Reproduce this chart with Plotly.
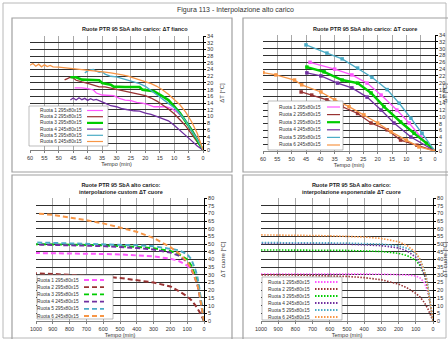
import plotly.graph_objects as go

W, H = 448, 339
def px(x): return x / W
def py(y): return 1 - y / H

# ---------------- data ----------------
names = ["Ruota 1 295x80x15", "Ruota 2 295x80x15", "Ruota 3 295x80x15",
         "Ruota 4 245x80x15", "Ruota 5 295x80x15", "Ruota 6 245x80x15"]
colors = ["#FF55FF", "#993333", "#00CC00", "#7030A0", "#4BACC6", "#F79646"]

# Top-left: ΔT fianco (measured, noisy)
fianco_x = [
    [0, 1.5, 3, 5, 7, 9, 11, 13, 15, 17, 19, 21, 23, 25, 27, 29, 31, 33, 35, 37, 38, 40, 42, 44.5],
    [0, 2, 4, 6, 8, 10, 12, 14, 16, 18, 20, 22, 24, 26, 28, 30, 32, 34, 36, 38, 40, 42, 44, 45, 46, 47, 48],
    [0, 2, 4, 6, 8, 10, 12, 14, 16, 17, 21, 22, 27, 28, 31, 32, 35, 36, 41, 42, 44, 46],
    [0, 2, 4, 6, 8, 10, 12, 14, 16, 18, 20, 22, 24, 26, 28, 30, 32, 34, 36, 37, 38, 39, 40, 41, 42, 43, 44, 45, 46],
    [0, 2, 4, 6, 8, 10, 12, 14, 16, 18, 20, 22, 24, 26, 28, 30, 32, 33, 34, 35, 36, 37, 38, 39, 40, 41],
    [0, 2, 4, 6, 8, 10, 12, 14, 16, 18, 20, 22, 24, 26, 28, 30, 32, 34, 36, 38, 40, 42, 44, 46, 48, 50, 52, 53, 54, 55, 56, 57, 58, 59, 60],
]
fianco_y = [
    [0, 2.8, 5.0, 7.5, 9.5, 11.3, 12.4, 12.9, 12.9, 12.9, 13.5, 14.0, 14.2, 14.7, 14.9, 15.4, 16.2, 16.4, 16.4, 17.0, 17.9, 18.3, 18.5, 18.5],
    [0, 2.3, 4.8, 7.2, 9.0, 10.8, 12.2, 13.5, 14.6, 15.5, 16.2, 16.6, 17.0, 17.3, 17.6, 18.0, 18.5, 18.8, 18.8, 19.4, 19.9, 20.3, 20.8, 21.5, 21.7, 21.3, 20.9],
    [0, 3.0, 6.0, 8.5, 11.0, 13.0, 14.9, 16.0, 17.0, 17.5, 18.0, 18.8, 18.8, 18.8, 18.9, 19.5, 20.0, 20.8, 20.8, 21.0, 21.7, 21.7],
    [0, 1.2, 2.8, 4.3, 6.0, 7.4, 8.7, 9.4, 10.0, 10.6, 11.0, 11.6, 11.7, 11.9, 12.3, 12.9, 13.2, 14.0, 14.9, 15.1, 14.9, 15.3, 14.8, 15.4, 15.0, 15.6, 14.9, 15.5, 14.9],
    [0, 3.2, 5.8, 8.6, 10.8, 12.6, 13.9, 15.2, 16.5, 17.9, 19.0, 19.8, 20.3, 21.0, 21.5, 21.8, 22.0, 22.3, 22.6, 23.4, 23.2, 23.5, 24.0, 23.9, 23.6, 23.0],
    [0, 5.0, 8.5, 11.3, 13.5, 15.2, 16.6, 17.9, 19.0, 19.8, 20.4, 21.0, 21.5, 22.0, 22.4, 22.8, 23.0, 23.2, 23.4, 23.6, 23.8, 24.0, 24.3, 24.4, 24.6, 24.7, 24.8, 25.2, 24.9, 25.4, 24.8, 25.6, 25.0, 25.8, 25.3],
]

# Top-right: ΔT cuore (with markers)
cuore_x = [
    [0, 5.0, 9.0, 13.3, 18.8, 23.7, 29.0, 35.0, 43.6],
    [0, 6.3, 12.0, 16.7, 22.3, 27.0, 32.4, 37.7, 43.0, 46.7],
    [0, 3.0, 7.3, 12.0, 17.8, 22.3, 27.0, 32.4, 38.7, 44.7],
    [0, 8.4, 14.3, 18.8, 23.7, 29.0, 34.0, 39.8, 44.7],
    [0, 4.5, 8.4, 12.5, 16.7, 22.0, 27.0, 32.4, 37.7, 45.0],
    [0, 5.6, 10.0, 15.3, 20.0, 24.8, 30.0, 35.0, 39.8, 46.5, 49.0, 55.5, 60.0],
]
cuore_y = [
    [0, 4.1, 8.2, 12.0, 16.4, 19.9, 22.3, 24.0, 26.0],
    [0, 1.7, 3.2, 6.2, 8.2, 11.0, 13.0, 15.0, 16.4, 17.3],
    [0, 2.3, 5.2, 8.5, 13.0, 17.0, 19.9, 20.8, 23.2, 24.6],
    [0, 4.1, 8.2, 12.0, 15.8, 18.5, 19.9, 22.0, 22.9],
    [0, 5.2, 9.6, 14.0, 18.0, 21.6, 24.3, 27.0, 28.7, 31.1],
    [0, 1.2, 3.2, 5.6, 8.2, 10.6, 13.0, 15.0, 17.3, 19.4, 20.8, 22.3, 23.0],
]

# Bottom panels: interpolations over 0..1000 min
t_interp = [0, 5, 10, 20, 30, 40, 50, 75, 100, 150, 200, 300, 400, 500, 600, 700, 800, 900, 1000]
custom_y = [
    [0, 4, 8, 15, 21, 25.5, 28, 33, 36, 39, 40.5, 42, 42.8, 43.3, 43.6, 43.8, 44, 44.1, 44.2],
    [0, 1.3, 2.5, 4.5, 6.5, 8.5, 10, 13.5, 16, 19.5, 22.5, 25, 26.7, 28, 28.8, 29.5, 30.1, 30.6, 31],
    [0, 4, 8, 15, 21, 26, 29, 36, 40, 43.5, 45.5, 47.3, 48.2, 48.8, 49.2, 49.5, 49.7, 49.9, 50],
    [0, 3.5, 7, 13, 19, 24, 27, 34, 38.5, 42.5, 44.5, 46.5, 47.5, 48.2, 48.7, 49, 49.3, 49.5, 49.7],
    [0, 4.5, 9, 16.5, 23, 29, 33, 40, 43.5, 46, 47, 48.6, 49.2, 49.6, 50, 50.3, 50.6, 50.8, 51],
    [0, 3.5, 7, 13, 19, 24, 27, 34, 38.5, 44, 48, 54, 58, 61, 63.5, 65.5, 67.5, 69, 70],
]
expo_y = [
    [0, 4, 8, 14, 19, 22.5, 25, 28, 29.3, 30, 30.2, 30.4, 30.5, 30.5, 30.5, 30.6, 30.6, 30.6, 30.6],
    [0, 1.5, 3, 5.5, 8, 10, 12, 15.5, 18, 21.5, 24, 26.8, 28.2, 29, 29.4, 29.7, 29.9, 30, 30],
    [0, 4, 8, 15, 21, 26, 30, 36, 39.5, 42.5, 44, 45.2, 45.7, 45.9, 46, 46.1, 46.1, 46.2, 46.2],
    [0, 4, 8, 15, 21, 26, 30, 37, 41.5, 45.5, 47.5, 49, 49.7, 50, 50.2, 50.3, 50.4, 50.4, 50.5],
    [0, 4.5, 9, 17, 23.5, 29, 33, 40, 44, 47.3, 48.8, 50, 50.5, 50.7, 50.8, 50.9, 51, 51, 51],
    [0, 4, 8, 16, 23, 28.5, 32, 40, 44.5, 49, 51.5, 53.7, 54.6, 55.1, 55.4, 55.6, 55.8, 55.9, 56],
]

main_title = "Figura 113 - Interpolazione alto carico"
titles = {
    "tl": "Ruote PTR 95 SbA alto carico: ΔT fianco",
    "tr": "Ruote PTR 95 SbA alto carico: ΔT cuore",
    "bl": "Ruote PTR 95 SbA alto carico:<br>interpolazione custom ΔT cuore",
    "br": "Ruote PTR 95 SbA alto carico:<br>interpolazione esponenziale ΔT cuore",
}
x_title = "Tempo (min)"
y_titles = {"tl": "ΔT [°C]", "tr": "ΔT [°C]", "bl": "ΔT cuore [°C]", "br": "ΔT cuore [°C]"}

# ---------------- figure ----------------
FONT = "Liberation Sans, Arial, sans-serif"
fig = go.Figure()

# panel geometry in px: (x0, x1, ytop, ybottom)
geo = {
    "tl": (30, 203, 36, 150),
    "tr": (263, 435, 35, 151),
    "bl": (36, 204, 198, 321),
    "br": (261, 433, 198, 321),
}
axis_ids = {"tl": "", "tr": "2", "bl": "3", "br": "4"}
ranges = {"tl": ([60, 0], 5, [0, 34], 2), "tr": ([60, 0], 5, [0, 34], 2),
          "bl": ([1000, 0], 100, [0, 80], 5), "br": ([1000, 0], 100, [0, 80], 5)}
standoffs = {"tl": 7, "tr": 14, "bl": 7, "br": 14}

for key, (x0, x1, yt, yb) in geo.items():
    aid = axis_ids[key]
    xr, xd, yr, yd = ranges[key]
    fig.layout["xaxis" + aid] = dict(
        domain=[px(x0), px(x1)], range=xr, dtick=xd, anchor="y" + aid,
        showgrid=True, gridcolor="#A8A8A8", gridwidth=1, zeroline=False,
        showline=True, linecolor="#808080", linewidth=1,
        ticks="outside", ticklen=2, tickcolor="#808080",
        tickfont=dict(size=5.5, family=FONT, color="#333"),
        title=dict(text=x_title, font=dict(size=5.5, family=FONT, color="#333"), standoff=1),
        automargin=False, fixedrange=True)
    fig.layout["yaxis" + aid] = dict(
        domain=[py(yb), py(yt)], range=yr, dtick=yd, anchor="x" + aid, side="right",
        showgrid=True, gridcolor="#303030", gridwidth=1, zeroline=False,
        showline=True, linecolor="#000000", linewidth=1,
        ticks="outside", ticklen=2, tickcolor="#000",
        tickfont=dict(size=5.5, family=FONT, color="#333"),
        title=dict(text=y_titles[key], font=dict(size=6, family=FONT, color="#333"), standoff=standoffs[key]),
        automargin=False, fixedrange=True)

DASH = "5px,3px"
DOT = "1.5px,1.5px"

for i in range(6):
    fig.add_trace(go.Scatter(x=fianco_x[i], y=fianco_y[i], mode="lines", xaxis="x", yaxis="y",
                             line=dict(color=colors[i], width=2.6 if i == 2 else 1.3),
                             showlegend=False, name=names[i]))
for i in range(6):
    fig.add_trace(go.Scatter(x=cuore_x[i], y=cuore_y[i], mode="lines+markers", xaxis="x2", yaxis="y2",
                             line=dict(color=colors[i], width=2.4 if i == 2 else 1.3),
                             marker=dict(symbol="square", size=3.5, color=colors[i]),
                             showlegend=False, name=names[i]))
for i in range(6):
    fig.add_trace(go.Scatter(x=t_interp, y=custom_y[i], mode="lines", xaxis="x3", yaxis="y3",
                             line=dict(color=colors[i], width=2, dash=DASH),
                             showlegend=False, name=names[i]))
for i in range(6):
    fig.add_trace(go.Scatter(x=t_interp, y=expo_y[i], mode="lines", xaxis="x4", yaxis="y4",
                             line=dict(color=colors[i], width=1.6, dash=DOT),
                             showlegend=False, name=names[i]))

shapes = []
annotations = []

# frames
shapes.append(dict(type="rect", xref="paper", yref="paper", x0=px(3), x1=px(446), y0=py(338), y1=py(3),
                   line=dict(color="#B8B8B8", width=1), layer="below"))
for (a, b, c, d) in [(12, 232, 18, 172), (243, 452, 18, 172), (12, 232, 175, 345), (243, 452, 175, 345)]:
    shapes.append(dict(type="rect", xref="paper", yref="paper", x0=px(a), x1=px(b), y0=py(d), y1=py(c),
                       line=dict(color="#A0A0A0", width=1.2), layer="below"))

annotations.append(dict(text=main_title, x=px(235), y=py(10), xref="paper", yref="paper",
                        xanchor="center", yanchor="middle",
                        showarrow=False, font=dict(size=7, family=FONT, color="#333")))

title_pos = {"tl": (135, 29), "tr": (365, 29), "bl": (121, 188), "br": (351, 188)}
for key, (tx, ty) in title_pos.items():
    annotations.append(dict(text="<b>" + titles[key] + "</b>", x=px(tx), y=py(ty), xref="paper", yref="paper",
                            xanchor="center", yanchor="middle",
                            showarrow=False, font=dict(size=5.5, family=FONT, color="#222")))

# manual legends: (box x0, x1, ytop, ybot, first row y, row step, text right x, sample x0, x1, style)
legends = [
    (29, 108, 106, 146, 110.5, 6.2, 84, 87, 103, "solid"),
    (268, 343, 101, 150, 107, 7.6, 323, 327, 340, "solid"),
    (37, 113, 275, 319, 280, 7.2, 81, 84, 104, DASH),
    (262, 342, 277, 320, 282, 7.0, 312, 315, 339, DOT),
]
for (bx0, bx1, byt, byb, r0, rs, tx, sx0, sx1, dash) in legends:
    shapes.append(dict(type="rect", xref="paper", yref="paper", x0=px(bx0), x1=px(bx1), y0=py(byb), y1=py(byt),
                       fillcolor="white", line=dict(color="#909090", width=0.6), layer="above"))
    for i in range(6):
        ry = r0 + i * rs
        w = 2.2 if (i == 2 and dash == "solid") else (1.8 if dash != "solid" else 1.2)
        shapes.append(dict(type="line", xref="paper", yref="paper", x0=px(sx0), x1=px(sx1), y0=py(ry), y1=py(ry),
                           line=dict(color=colors[i], width=w, dash=dash), layer="above"))
        annotations.append(dict(text=names[i], x=px(tx), y=py(ry), xref="paper", yref="paper",
                                xanchor="right", yanchor="middle", showarrow=False,
                                font=dict(size=4.8, family=FONT, color="#333")))

fig.update_layout(width=W, height=H, margin=dict(l=0, r=0, t=0, b=0),
                  paper_bgcolor="white", plot_bgcolor="white",
                  shapes=shapes, annotations=annotations, showlegend=False)

fig.write_html("out.html")
